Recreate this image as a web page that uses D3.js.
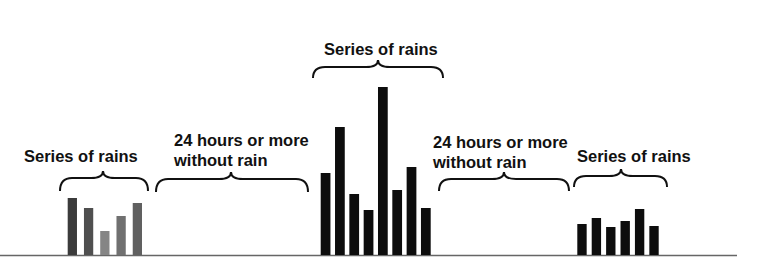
<!DOCTYPE html>
<html>
<head>
<meta charset="utf-8">
<script src="https://cdn.jsdelivr.net/npm/d3@7"></script>
<style>
    body { margin: 0; background: #fff; }
    svg text { font-family: "Liberation Sans", Arial, sans-serif; font-weight: bold; fill: #111; }
</style>
</head>
<body>
<div id="viz"></div>
<script>
let width = 766, height = 280;

// rain amounts per hour in each series (arbitrary units)
let rains1 = [57, 47, 24, 39, 52];
let rains2 = [82, 128, 61, 45, 168, 65, 88, 47];
let rains3 = [31, 37, 28, 34, 46, 29];
let colors1 = ['#3b3b3b', '#4f4f4f', '#858585', '#707070', '#606060'];

let labelRain = 'Series of rains';
let labelDry = ['24 hours or more', 'without rain'];

// layout of each group on the page
let groups = [
    {values: rains1, colors: colors1, x0: 67.7, x1: 142, pad: 0.43},
    {values: rains2, colors: null, x0: 320.7, x1: 430.7, pad: 0.32},
    {values: rains3, colors: null, x0: 577.3, x1: 658.7, pad: 0.35}
];

// braces: ends x0..x1, tip at xm, tip y and end y; text lines placed above
let braces = [
    {x0: 60, x1: 148, xm: 103, yTip: 171, yEnd: 191, lines: [labelRain], tx: 24, ty: 162},
    {x0: 156, x1: 308, xm: 231, yTip: 172, yEnd: 192, lines: labelDry, tx: 174, ty: 146},
    {x0: 313, x1: 443, xm: 378, yTip: 60, yEnd: 78, lines: [labelRain], tx: 324, ty: 55},
    {x0: 439, x1: 569, xm: 504, yTip: 172, yEnd: 191, lines: labelDry, tx: 433, ty: 148},
    {x0: 574, x1: 667, xm: 621, yTip: 169, yEnd: 187, lines: [labelRain], tx: 577, ty: 162}
];

let svg = d3.select('#viz')
    .append('svg')
    .attr('width', width)
    .attr('height', height);

let y = d3.scaleLinear()
    .domain([0, 170])
    .range([255, 85]);

// ground line
svg.append('line')
    .attr('x1', 0)
    .attr('x2', 737)
    .attr('y1', y(0) + 0.5)
    .attr('y2', y(0) + 0.5)
    .attr('stroke', '#666')
    .attr('stroke-width', 1.5);

for (let g of groups) {
    let x = d3.scaleBand()
        .domain(d3.range(g.values.length))
        .range([g.x0, g.x1])
        .paddingInner(g.pad)
        .paddingOuter(0);

    svg.append('g')
        .selectAll('rect')
        .data(g.values)
        .enter()
        .append('rect')
        .attr('x', (d, i) => x(i))
        .attr('width', x.bandwidth())
        .attr('y', d => y(d))
        .attr('height', d => y(0) - y(d))
        .attr('fill', (d, i) => g.colors ? g.colors[i] : '#0d0d0d');
}

function bracePath(b) {
    let q = 12, yh = b.yTip + 7;
    return 'M' + b.x0 + ',' + b.yEnd
        + ' Q' + b.x0 + ',' + yh + ' ' + (b.x0 + q) + ',' + yh
        + ' L' + (b.xm - q) + ',' + yh
        + ' Q' + b.xm + ',' + yh + ' ' + b.xm + ',' + b.yTip
        + ' Q' + b.xm + ',' + yh + ' ' + (b.xm + q) + ',' + yh
        + ' L' + (b.x1 - q) + ',' + yh
        + ' Q' + b.x1 + ',' + yh + ' ' + b.x1 + ',' + b.yEnd;
}

for (let b of braces) {
    svg.append('path')
        .attr('d', bracePath(b))
        .attr('fill', 'none')
        .attr('stroke', '#111')
        .attr('stroke-width', 2);

    let t = svg.append('text')
        .attr('x', b.tx)
        .attr('y', b.ty)
        .style('font-size', '16.5px');
    b.lines.forEach((line, i) => {
        t.append('tspan')
            .attr('x', b.tx)
            .attr('dy', i === 0 ? 0 : 20)
            .text(line);
    });
}
</script>
</body>
</html>
